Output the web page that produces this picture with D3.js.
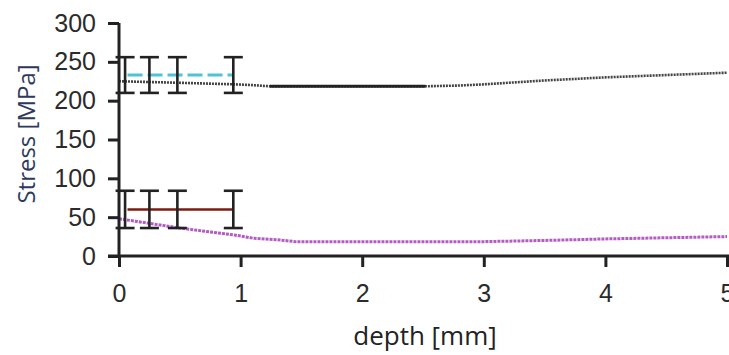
<!DOCTYPE html>
<html><head><meta charset="utf-8">
<script src="https://cdn.jsdelivr.net/npm/d3@7"></script>
<style>body{margin:0;background:#fff}svg{display:block}</style>
</head><body>
<svg id="c" width="729" height="355"></svg>
<script>
// ---- data ----
const xTicks = [0, 1, 2, 3, 4, 5];
const yTicks = [0, 50, 100, 150, 200, 250, 300];
const blackDepth = [0, 0.5, 0.96, 1.1, 1.24, 2.52, 2.8, 3.0, 3.5, 4.0, 4.5, 5.0];
const blackStress = [225, 223, 221, 220, 218.5, 218.5, 219.5, 221, 226, 230, 233, 236];
const blackSolidDepth = [1.24, 2.52];
const blackSolidStress = [218.5, 218.5];
const magentaDepth = [0, 0.25, 0.5, 0.75, 0.95, 1.1, 1.3, 1.45, 2.0, 3.0, 3.5, 4.0, 4.5, 5.0];
const magentaStress = [48, 42, 36, 31, 27, 23, 21, 18.5, 18.5, 18.5, 20, 22, 23.5, 25];
const cyanDepth = [0.07, 0.94];
const cyanStress = [233, 233];
const redDepth = [0.07, 0.94];
const redStress = [60, 60];
const errDepth = [0.05, 0.25, 0.48, 0.94];
const errUpperMean = [233, 233, 233, 233];
const errUpperSd = [23, 23, 23, 23];
const errLowerMean = [60, 60, 60, 60];
const errLowerSd = [24, 24, 24, 24];

// ---- chart ----
const svg = d3.select("#c");
const x = d3.scaleLinear().domain([0, 5]).range([119, 727]);
const y = d3.scaleLinear().domain([0, 300]).range([256, 23]);
const axisColor = "#222";

const line = d3.line().x(d => x(d[0])).y(d => y(d[1]));
const zip = (a, b) => a.map((v, i) => [v, b[i]]);

// series
svg.append("path").datum(zip(magentaDepth, magentaStress)).attr("d", line)
  .attr("fill", "none").attr("stroke", "#b35cc2").attr("stroke-width", 3).attr("stroke-dasharray", "3,1");
svg.append("path").datum(zip(blackDepth, blackStress)).attr("d", line)
  .attr("fill", "none").attr("stroke", "#444").attr("stroke-width", 2.6).attr("stroke-dasharray", "2,1");
svg.append("path").datum(zip(blackSolidDepth, blackSolidStress)).attr("d", line)
  .attr("fill", "none").attr("stroke", "#222").attr("stroke-width", 3);
svg.append("path").datum(zip(cyanDepth, cyanStress)).attr("d", line)
  .attr("fill", "none").attr("stroke", "#4cc4d6").attr("stroke-width", 3).attr("stroke-dasharray", "15,5");
svg.append("path").datum(zip(redDepth, redStress)).attr("d", line)
  .attr("fill", "none").attr("stroke", "#7b1c12").attr("stroke-width", 2.5);

// error bars
function errBars(means, sds) {
  const g = svg.append("g").attr("stroke", "#222").attr("stroke-width", 2.6).attr("fill", "none");
  errDepth.forEach((d, i) => {
    const cx = x(d), t = y(means[i] + sds[i]), b = y(means[i] - sds[i]);
    g.append("line").attr("x1", cx).attr("x2", cx).attr("y1", t).attr("y2", b);
    g.append("line").attr("x1", cx - 9.5).attr("x2", cx + 9.5).attr("y1", t).attr("y2", t);
    g.append("line").attr("x1", cx - 9.5).attr("x2", cx + 9.5).attr("y1", b).attr("y2", b);
  });
}
errBars(errUpperMean, errUpperSd);
errBars(errLowerMean, errLowerSd);

// axes
const yAxis = svg.append("g").attr("transform", `translate(${x(0)},0)`)
  .call(d3.axisLeft(y).tickValues(yTicks).tickFormat(d3.format("d")).tickSize(11).tickPadding(12));
const xAxis = svg.append("g").attr("transform", `translate(0,${y(0)})`)
  .call(d3.axisBottom(x).tickValues(xTicks).tickFormat(d3.format("d")).tickSize(11).tickPadding(17));
[yAxis, xAxis].forEach(a => {
  a.select(".domain").attr("stroke", axisColor).attr("stroke-width", 3);
  a.selectAll(".tick line").attr("stroke", axisColor).attr("stroke-width", 3);
  a.selectAll(".tick text").attr("fill", "#2b2b2b")
    .style("font-family", "'Liberation Sans', Arial, sans-serif").style("font-size", "25px");
});
yAxis.select(".domain").attr("d", `M0,${y(300)}V${y(0)}`);
yAxis.selectAll(".tick line").attr("x1", 0);
xAxis.select(".domain").attr("d", `M${x(0) - 11},0H729`);
xAxis.selectAll(".tick line").attr("y2", 11);

// labels
svg.append("text").attr("transform", `translate(35,134) rotate(-90)`)
  .attr("text-anchor", "middle").attr("fill", "#2d3a5c")
  .style("font-family", "'Open Sans', sans-serif").style("font-size", "24px")
  .text("Stress [MPa]");
svg.append("text").attr("x", (x(0) + x(5)) / 2 + 2).attr("y", 345)
  .attr("text-anchor", "middle").attr("fill", "#222")
  .style("font-family", "'Open Sans', sans-serif").style("font-size", "26px")
  .text("depth [mm]");
</script>
</body></html>
